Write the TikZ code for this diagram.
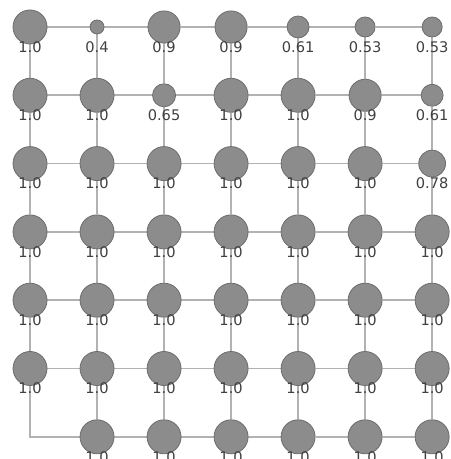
\documentclass[tikz,border=0pt]{standalone}
\usepackage{fontspec}
\setmainfont{DejaVu Sans}
\usetikzlibrary{backgrounds}
\begin{document}
\begin{tikzpicture}[
    x=1.773cm, y=-1.807cm,
    site/.style={
      circle, draw=gray!85!black, fill=gray!90!white, semithick,
      minimum size=#1, inner sep=0pt
    },
    val/.style={
      font=\fontsize{11}{13}\selectfont, text=black!75, yshift=-0.53cm, inner sep=0pt
    },
    link/.style={gray!60!white, line width=1.2pt},
]
\useasboundingbox (-0.448,-0.395) rectangle (6.269,6.325);

% ===== ROW 1 =====
\node[site=0.90cm, label={[val, name=v11]center:1.0}] (n11) at (0,0) {};
\node[site=0.37cm, label={[val, name=v12]center:0.4}] (n12) at (1,0) {};
\node[site=0.85cm, label={[val, name=v13]center:0.9}] (n13) at (2,0) {};
\node[site=0.85cm, label={[val, name=v14]center:0.9}] (n14) at (3,0) {};
\node[site=0.58cm, label={[val, name=v15]center:0.61}] (n15) at (4,0) {};
\node[site=0.53cm, label={[val, name=v16]center:0.53}] (n16) at (5,0) {};
\node[site=0.53cm, label={[val, name=v17]center:0.53}] (n17) at (6,0) {};

% ===== ROW 2 =====
\node[site=0.90cm, label={[val, name=v21]center:1.0}] (n21) at (0,1) {};
\node[site=0.90cm, label={[val, name=v22]center:1.0}] (n22) at (1,1) {};
\node[site=0.61cm, label={[val, name=v23]center:0.65}] (n23) at (2,1) {};
\node[site=0.90cm, label={[val, name=v24]center:1.0}] (n24) at (3,1) {};
\node[site=0.90cm, label={[val, name=v25]center:1.0}] (n25) at (4,1) {};
\node[site=0.85cm, label={[val, name=v26]center:0.9}] (n26) at (5,1) {};
\node[site=0.58cm, label={[val, name=v27]center:0.61}] (n27) at (6,1) {};

% ===== ROW 3 =====
\node[site=0.90cm, label={[val, name=v31]center:1.0}] (n31) at (0,2) {};
\node[site=0.90cm, label={[val, name=v32]center:1.0}] (n32) at (1,2) {};
\node[site=0.90cm, label={[val, name=v33]center:1.0}] (n33) at (2,2) {};
\node[site=0.90cm, label={[val, name=v34]center:1.0}] (n34) at (3,2) {};
\node[site=0.90cm, label={[val, name=v35]center:1.0}] (n35) at (4,2) {};
\node[site=0.90cm, label={[val, name=v36]center:1.0}] (n36) at (5,2) {};
\node[site=0.71cm, label={[val, name=v37]center:0.78}] (n37) at (6,2) {};

% ===== ROW 4 =====
\node[site=0.90cm, label={[val, name=v41]center:1.0}] (n41) at (0,3) {};
\node[site=0.90cm, label={[val, name=v42]center:1.0}] (n42) at (1,3) {};
\node[site=0.90cm, label={[val, name=v43]center:1.0}] (n43) at (2,3) {};
\node[site=0.90cm, label={[val, name=v44]center:1.0}] (n44) at (3,3) {};
\node[site=0.90cm, label={[val, name=v45]center:1.0}] (n45) at (4,3) {};
\node[site=0.90cm, label={[val, name=v46]center:1.0}] (n46) at (5,3) {};
\node[site=0.90cm, label={[val, name=v47]center:1.0}] (n47) at (6,3) {};

% ===== ROW 5 =====
\node[site=0.90cm, label={[val, name=v51]center:1.0}] (n51) at (0,4) {};
\node[site=0.90cm, label={[val, name=v52]center:1.0}] (n52) at (1,4) {};
\node[site=0.90cm, label={[val, name=v53]center:1.0}] (n53) at (2,4) {};
\node[site=0.90cm, label={[val, name=v54]center:1.0}] (n54) at (3,4) {};
\node[site=0.90cm, label={[val, name=v55]center:1.0}] (n55) at (4,4) {};
\node[site=0.90cm, label={[val, name=v56]center:1.0}] (n56) at (5,4) {};
\node[site=0.90cm, label={[val, name=v57]center:1.0}] (n57) at (6,4) {};

% ===== ROW 6 =====
\node[site=0.90cm, label={[val, name=v61]center:1.0}] (n61) at (0,5) {};
\node[site=0.90cm, label={[val, name=v62]center:1.0}] (n62) at (1,5) {};
\node[site=0.90cm, label={[val, name=v63]center:1.0}] (n63) at (2,5) {};
\node[site=0.90cm, label={[val, name=v64]center:1.0}] (n64) at (3,5) {};
\node[site=0.90cm, label={[val, name=v65]center:1.0}] (n65) at (4,5) {};
\node[site=0.90cm, label={[val, name=v66]center:1.0}] (n66) at (5,5) {};
\node[site=0.90cm, label={[val, name=v67]center:1.0}] (n67) at (6,5) {};

% ===== ROW 7 (first site empty) =====
\coordinate (c71) at (0,6);
\node[site=0.90cm, label={[val, name=v72]center:1.0}] (n72) at (1,6) {};
\node[site=0.90cm, label={[val, name=v73]center:1.0}] (n73) at (2,6) {};
\node[site=0.90cm, label={[val, name=v74]center:1.0}] (n74) at (3,6) {};
\node[site=0.90cm, label={[val, name=v75]center:1.0}] (n75) at (4,6) {};
\node[site=0.90cm, label={[val, name=v76]center:1.0}] (n76) at (5,6) {};
\node[site=0.90cm, label={[val, name=v77]center:1.0}] (n77) at (6,6) {};

% ===== LINKS (behind the sites) =====
\begin{scope}[on background layer]
% horizontal
\draw[link] (n11) -- (n12) -- (n13) -- (n14) -- (n15) -- (n16) -- (n17);
\draw[link] (n21) -- (n22) -- (n23) -- (n24) -- (n25) -- (n26) -- (n27);
\draw[link] (n31) -- (n32) -- (n33) -- (n34) -- (n35) -- (n36) -- (n37);
\draw[link] (n41) -- (n42) -- (n43) -- (n44) -- (n45) -- (n46) -- (n47);
\draw[link] (n51) -- (n52) -- (n53) -- (n54) -- (n55) -- (n56) -- (n57);
\draw[link] (n61) -- (n62) -- (n63) -- (n64) -- (n65) -- (n66) -- (n67);
\draw[link] (n72) -- (n73) -- (n74) -- (n75) -- (n76) -- (n77);
% vertical
\draw[link] (n11) -- (n21) -- (n31) -- (n41) -- (n51) -- (n61) -- (c71) -- (n72);
\draw[link] (n12) -- (n22) -- (n32) -- (n42) -- (n52) -- (n62) -- (n72);
\draw[link] (n13) -- (n23) -- (n33) -- (n43) -- (n53) -- (n63) -- (n73);
\draw[link] (n14) -- (n24) -- (n34) -- (n44) -- (n54) -- (n64) -- (n74);
\draw[link] (n15) -- (n25) -- (n35) -- (n45) -- (n55) -- (n65) -- (n75);
\draw[link] (n16) -- (n26) -- (n36) -- (n46) -- (n56) -- (n66) -- (n76);
\draw[link] (n17) -- (n27) -- (n37) -- (n47) -- (n57) -- (n67) -- (n77);
\end{scope}

\end{tikzpicture}
\end{document}
